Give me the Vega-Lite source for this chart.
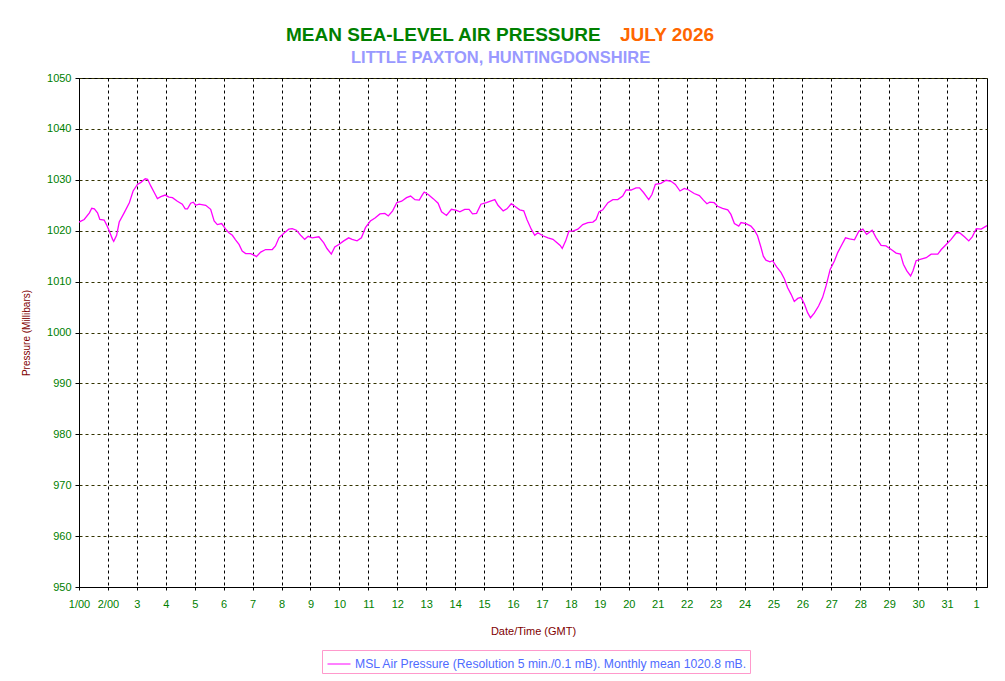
{
  "$schema": "https://vega.github.io/schema/vega-lite/v6.json",
  "autosize": {"type": "none"},
  "padding": {"left": 79, "top": 78, "right": 926, "bottom": 603},
  "background": "#ffffff",
  "title": {"text": "JULY 2026", "color": "#ff6600", "font": "Liberation Sans", "fontSize": 19, "fontWeight": "bold", "anchor": "start", "frame": "group", "offset": 0, "dx": 541, "dy": 19},
  "bounds": "flush",
  "vconcat": [
    {
      "title": {"text": "MEAN SEA-LEVEL AIR PRESSURE", "color": "#008000", "font": "Liberation Sans", "fontSize": 19, "fontWeight": "bold", "anchor": "start", "frame": "group", "offset": 4, "dx": 207},
      "bounds": "flush",
      "vconcat": [
        {
          "title": {"text": "LITTLE PAXTON, HUNTINGDONSHIRE", "color": "#9999ff", "font": "Liberation Sans", "fontSize": 16.5, "fontWeight": "bold", "anchor": "start", "frame": "group", "offset": 6, "dx": 272},
          "width": 908,
          "height": 509,
          "data": {"values": [
            {"day": 1.0, "p": 1021.7}, {"day": 1.18, "p": 1022.2}, {"day": 1.36, "p": 1023.5}, {"day": 1.44, "p": 1024.4}, {"day": 1.53, "p": 1024.3},
            {"day": 1.64, "p": 1023.5}, {"day": 1.72, "p": 1022.2}, {"day": 1.87, "p": 1022.1}, {"day": 1.95, "p": 1021.2}, {"day": 2.05, "p": 1019.9},
            {"day": 2.16, "p": 1018.3}, {"day": 2.2, "p": 1017.9}, {"day": 2.3, "p": 1019.1}, {"day": 2.39, "p": 1021.7}, {"day": 2.56, "p": 1023.5},
            {"day": 2.74, "p": 1025.5}, {"day": 2.87, "p": 1027.8}, {"day": 3.02, "p": 1029.1}, {"day": 3.14, "p": 1029.5}, {"day": 3.29, "p": 1030.2},
            {"day": 3.37, "p": 1030.1}, {"day": 3.48, "p": 1028.8}, {"day": 3.6, "p": 1027.5}, {"day": 3.71, "p": 1026.3}, {"day": 3.83, "p": 1026.7},
            {"day": 3.98, "p": 1027.0}, {"day": 4.11, "p": 1026.6}, {"day": 4.23, "p": 1026.5}, {"day": 4.4, "p": 1025.8}, {"day": 4.57, "p": 1025.2},
            {"day": 4.67, "p": 1024.3}, {"day": 4.75, "p": 1024.3}, {"day": 4.86, "p": 1025.4}, {"day": 4.95, "p": 1025.6}, {"day": 5.03, "p": 1025.0},
            {"day": 5.15, "p": 1025.2}, {"day": 5.38, "p": 1025.0}, {"day": 5.55, "p": 1024.2}, {"day": 5.67, "p": 1021.9}, {"day": 5.78, "p": 1021.2},
            {"day": 5.93, "p": 1021.4}, {"day": 6.07, "p": 1020.3}, {"day": 6.18, "p": 1019.6}, {"day": 6.3, "p": 1019.1}, {"day": 6.41, "p": 1018.2},
            {"day": 6.53, "p": 1017.3}, {"day": 6.64, "p": 1016.0}, {"day": 6.76, "p": 1015.5}, {"day": 6.93, "p": 1015.5}, {"day": 7.05, "p": 1015.2},
            {"day": 7.13, "p": 1014.9}, {"day": 7.28, "p": 1015.8}, {"day": 7.45, "p": 1016.3}, {"day": 7.68, "p": 1016.3}, {"day": 7.79, "p": 1017.0},
            {"day": 7.91, "p": 1018.6}, {"day": 8.08, "p": 1019.5}, {"day": 8.25, "p": 1020.3}, {"day": 8.37, "p": 1020.4}, {"day": 8.51, "p": 1020.1},
            {"day": 8.66, "p": 1019.1}, {"day": 8.8, "p": 1018.3}, {"day": 8.92, "p": 1018.9}, {"day": 9.06, "p": 1018.6}, {"day": 9.29, "p": 1018.8},
            {"day": 9.46, "p": 1017.6}, {"day": 9.57, "p": 1016.5}, {"day": 9.72, "p": 1015.4}, {"day": 9.84, "p": 1016.8}, {"day": 9.98, "p": 1017.3},
            {"day": 10.15, "p": 1018.0}, {"day": 10.32, "p": 1018.6}, {"day": 10.44, "p": 1018.3}, {"day": 10.61, "p": 1018.0}, {"day": 10.76, "p": 1018.6},
            {"day": 10.9, "p": 1020.6}, {"day": 11.07, "p": 1021.9}, {"day": 11.23, "p": 1022.5}, {"day": 11.4, "p": 1023.3}, {"day": 11.57, "p": 1023.4},
            {"day": 11.69, "p": 1022.9}, {"day": 11.84, "p": 1023.9}, {"day": 11.98, "p": 1025.5}, {"day": 12.15, "p": 1025.8}, {"day": 12.32, "p": 1026.5},
            {"day": 12.46, "p": 1026.8}, {"day": 12.61, "p": 1026.1}, {"day": 12.76, "p": 1026.0}, {"day": 12.87, "p": 1027.1}, {"day": 12.93, "p": 1027.6},
            {"day": 13.07, "p": 1027.1}, {"day": 13.24, "p": 1026.3}, {"day": 13.41, "p": 1025.4}, {"day": 13.53, "p": 1023.7}, {"day": 13.7, "p": 1023.0},
            {"day": 13.87, "p": 1024.2}, {"day": 14.05, "p": 1024.0}, {"day": 14.16, "p": 1023.7}, {"day": 14.33, "p": 1024.2}, {"day": 14.48, "p": 1024.2},
            {"day": 14.6, "p": 1023.3}, {"day": 14.74, "p": 1023.4}, {"day": 14.89, "p": 1025.2}, {"day": 15.08, "p": 1025.5}, {"day": 15.22, "p": 1025.8},
            {"day": 15.37, "p": 1026.1}, {"day": 15.48, "p": 1025.0}, {"day": 15.66, "p": 1023.9}, {"day": 15.79, "p": 1024.3}, {"day": 15.94, "p": 1025.3},
            {"day": 16.06, "p": 1024.8}, {"day": 16.23, "p": 1024.1}, {"day": 16.37, "p": 1023.9}, {"day": 16.48, "p": 1022.2}, {"day": 16.63, "p": 1020.3},
            {"day": 16.75, "p": 1019.1}, {"day": 16.86, "p": 1019.6}, {"day": 17.03, "p": 1019.0}, {"day": 17.21, "p": 1018.6}, {"day": 17.38, "p": 1018.3},
            {"day": 17.49, "p": 1017.8}, {"day": 17.63, "p": 1017.1}, {"day": 17.7, "p": 1016.5}, {"day": 17.82, "p": 1018.0}, {"day": 17.93, "p": 1019.9},
            {"day": 18.07, "p": 1019.9}, {"day": 18.24, "p": 1020.3}, {"day": 18.41, "p": 1021.2}, {"day": 18.59, "p": 1021.6}, {"day": 18.76, "p": 1021.7},
            {"day": 18.87, "p": 1022.2}, {"day": 18.97, "p": 1023.7}, {"day": 19.1, "p": 1024.1}, {"day": 19.28, "p": 1025.5}, {"day": 19.45, "p": 1026.1},
            {"day": 19.62, "p": 1026.1}, {"day": 19.79, "p": 1026.8}, {"day": 19.91, "p": 1028.0}, {"day": 20.08, "p": 1028.0}, {"day": 20.25, "p": 1028.4},
            {"day": 20.37, "p": 1028.4}, {"day": 20.51, "p": 1027.5}, {"day": 20.69, "p": 1026.1}, {"day": 20.8, "p": 1027.1}, {"day": 20.92, "p": 1029.1},
            {"day": 21.11, "p": 1029.3}, {"day": 21.29, "p": 1029.9}, {"day": 21.46, "p": 1029.7}, {"day": 21.61, "p": 1029.1}, {"day": 21.77, "p": 1027.8},
            {"day": 21.92, "p": 1028.3}, {"day": 22.07, "p": 1028.0}, {"day": 22.26, "p": 1027.3}, {"day": 22.44, "p": 1026.9}, {"day": 22.58, "p": 1026.0},
            {"day": 22.7, "p": 1025.3}, {"day": 22.8, "p": 1025.6}, {"day": 22.95, "p": 1025.5}, {"day": 23.07, "p": 1024.8}, {"day": 23.24, "p": 1024.4},
            {"day": 23.42, "p": 1024.1}, {"day": 23.53, "p": 1023.2}, {"day": 23.65, "p": 1021.4}, {"day": 23.8, "p": 1020.9}, {"day": 23.88, "p": 1021.6},
            {"day": 24.05, "p": 1021.4}, {"day": 24.22, "p": 1020.9}, {"day": 24.34, "p": 1020.1}, {"day": 24.45, "p": 1019.0}, {"day": 24.57, "p": 1016.7},
            {"day": 24.65, "p": 1015.0}, {"day": 24.74, "p": 1014.2}, {"day": 24.88, "p": 1013.9}, {"day": 24.97, "p": 1014.1}, {"day": 25.11, "p": 1012.9},
            {"day": 25.26, "p": 1011.8}, {"day": 25.38, "p": 1010.5}, {"day": 25.49, "p": 1008.8}, {"day": 25.61, "p": 1007.5}, {"day": 25.72, "p": 1006.1},
            {"day": 25.84, "p": 1006.7}, {"day": 25.95, "p": 1006.9}, {"day": 26.07, "p": 1005.6}, {"day": 26.18, "p": 1003.9}, {"day": 26.28, "p": 1002.9},
            {"day": 26.41, "p": 1003.8}, {"day": 26.56, "p": 1005.2}, {"day": 26.7, "p": 1006.9}, {"day": 26.82, "p": 1009.2}, {"day": 26.96, "p": 1012.4},
            {"day": 27.11, "p": 1014.1}, {"day": 27.22, "p": 1015.7}, {"day": 27.34, "p": 1017.0}, {"day": 27.49, "p": 1018.6}, {"day": 27.63, "p": 1018.4},
            {"day": 27.8, "p": 1018.2}, {"day": 27.95, "p": 1019.9}, {"day": 28.09, "p": 1020.3}, {"day": 28.22, "p": 1019.3}, {"day": 28.41, "p": 1020.1},
            {"day": 28.55, "p": 1018.6}, {"day": 28.72, "p": 1017.1}, {"day": 28.89, "p": 1017.0}, {"day": 29.07, "p": 1016.3}, {"day": 29.24, "p": 1015.6},
            {"day": 29.39, "p": 1015.4}, {"day": 29.49, "p": 1013.4}, {"day": 29.61, "p": 1012.1}, {"day": 29.74, "p": 1011.1}, {"day": 29.82, "p": 1012.1},
            {"day": 29.93, "p": 1014.1}, {"day": 30.1, "p": 1014.4}, {"day": 30.28, "p": 1014.7}, {"day": 30.45, "p": 1015.4}, {"day": 30.68, "p": 1015.4},
            {"day": 30.8, "p": 1016.3}, {"day": 30.97, "p": 1017.3}, {"day": 31.14, "p": 1018.3}, {"day": 31.32, "p": 1019.6}, {"day": 31.43, "p": 1019.6},
            {"day": 31.6, "p": 1018.8}, {"day": 31.75, "p": 1018.0}, {"day": 31.87, "p": 1018.8}, {"day": 32.01, "p": 1020.4}, {"day": 32.18, "p": 1020.3},
            {"day": 32.35, "p": 1020.9}, {"day": 32.4, "p": 1021.0}
          ]},
          "mark": {"type": "line", "strokeWidth": 1.3, "clip": true},
          "encoding": {
            "x": {
              "field": "day", "type": "quantitative",
              "scale": {"domain": [1, 32.38], "nice": false, "zero": false},
              "axis": {
                "values": [1,2,3,4,5,6,7,8,9,10,11,12,13,14,15,16,17,18,19,20,21,22,23,24,25,26,27,28,29,30,31,32],
                "format": "d",
                "labelExpr": "datum.value == 1 ? '1/00' : datum.value == 2 ? '2/00' : datum.value == 32 ? '1' : datum.label",
                "title": "Date/Time (GMT)",
                "titleFontSize": 11,
                "titlePadding": 16,
                "gridColor": "#000000",
                "gridDash": [3, 3],
                "tickSize": 3,
                "labelPadding": 8,
                "labelFlush": false,
                "labelOverlap": false,
                "labelBound": false
              }
            },
            "y": {
              "field": "p", "type": "quantitative",
              "scale": {"domain": [950, 1050], "nice": false, "zero": false},
              "axis": {
                "values": [950, 960, 970, 980, 990, 1000, 1010, 1020, 1030, 1040, 1050],
                "format": "d",
                "title": "Pressure (Millibars)",
                "titleFontSize": 10,
                "titlePadding": 15,
                "gridColor": "#333300",
                "gridDash": [3, 3],
                "tickSize": 4,
                "labelPadding": 4,
                "labelFlush": false,
                "labelOverlap": false,
                "labelBound": false
              }
            },
            "color": {
              "datum": "MSL Air Pressure (Resolution 5 min./0.1 mB). Monthly mean 1020.8 mB.",
              "type": "nominal",
              "scale": {"range": ["#ff00ff"]},
              "legend": {
                "orient": "none",
                "legendX": 243,
                "legendY": 572,
                "title": null,
                "padding": 2,
                "strokeColor": "#ff99cc",
                "fillColor": "#ffffff",
                "symbolType": "stroke",
                "symbolSize": 529,
                "symbolStrokeWidth": 1,
                "symbolOffset": 3,
                "labelOffset": 4,
                "labelFont": "Liberation Sans",
                "labelFontSize": 12.2,
                "labelColor": "#4f6bff",
                "labelLimit": 1000
              }
            }
          }
        }
      ]
    }
  ],
  "config": {
    "font": "Liberation Sans",
    "view": {"stroke": "#000000", "strokeWidth": 1},
    "axis": {
      "domainColor": "#000000",
      "domainWidth": 1,
      "tickColor": "#000000",
      "tickWidth": 1,
      "labelColor": "#008000",
      "labelFont": "Liberation Sans",
      "labelFontSize": 11,
      "titleColor": "#800000",
      "titleFont": "Liberation Sans",
      "titleFontWeight": "normal",
      "gridWidth": 1,
      "gridOpacity": 1
    }
  }
}
